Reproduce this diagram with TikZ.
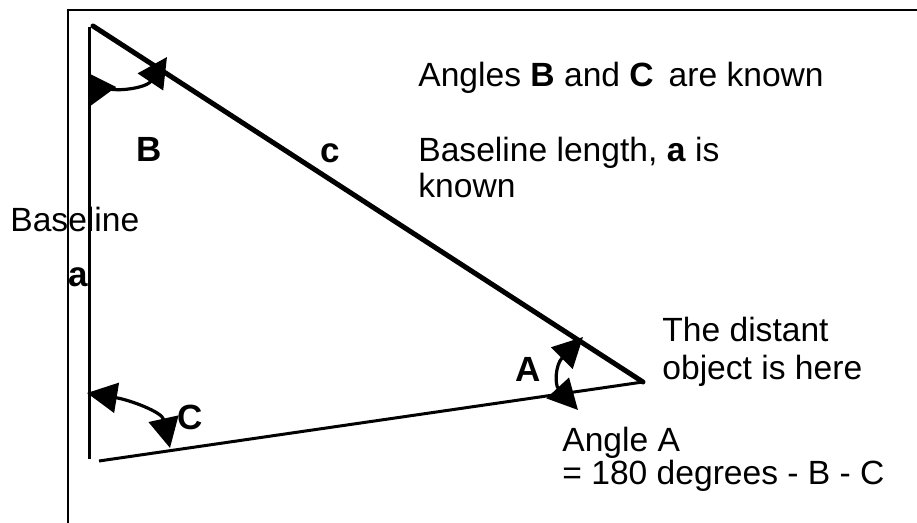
\documentclass[tikz,border=0pt]{standalone}
\usepackage{fontspec}
\setmainfont{Liberation Sans}
\usetikzlibrary{arrows.meta}
\tikzset{
  lbl/.style={inner sep=0pt, anchor=base west, font=\fontsize{16.8pt}{18pt}\selectfont},
  blbl/.style={lbl, font=\fontsize{17.5pt}{18pt}\selectfont\bfseries},
  frameline/.style={line width=1pt},
  sideline/.style={line width=1.5pt},
  hypline/.style={line width=2.5pt},
  angarrow/.style={line width=1.6pt, {Triangle[length=15pt,width=15pt]}-{Triangle[length=15pt,width=15pt]}},
}
\begin{document}
\begin{tikzpicture}[x=0.5pt,y=-0.5pt]
\useasboundingbox (0,0) rectangle (917,523);
% frame
\coordinate (f1) at (68,523);
\coordinate (f2) at (68,10);
\coordinate (f3) at (917,10);
\draw[frameline] (f1) -- (f2) -- (f3);
% triangle vertices
\coordinate (Vtop) at (89,27);
\coordinate (Vbot) at (89,459);
\coordinate (Htop) at (93,26);
\coordinate (Vobj) at (643,382);
\coordinate (Bbot) at (99,461);
\draw[sideline] (Vtop) -- (Vbot);
\draw[hypline, line cap=round] (Htop) -- (Vobj);
\draw[sideline] (Bbot) -- (Vobj);
% angle arrows
\coordinate (Bhi) at (167,57);
\coordinate (Blo) at (89,107);
\draw[angarrow] (Bhi) .. controls (145,90) and (95,95) .. (Blo);
\coordinate (Chi) at (87,393);
\coordinate (Clo) at (170,448);
\draw[angarrow] (Chi) .. controls (130,400) and (162,412) .. (Clo);
\coordinate (Ahi) at (583,337);
\coordinate (Alo) at (578,410);
\draw[angarrow] (Ahi) .. controls (555,365) and (555,385) .. (Alo);
% labels
\node[blbl] (lB) at (136,162) {B};
\node[blbl] (lc) at (320,163) {c};
\node[blbl] (la) at (68,287) {a};
\node[blbl] (lC) at (177,430) {C};
\node[blbl] (lA) at (515,382) {A};
\node[lbl] (base) at (10,232) {Baseline};
\node[lbl] (t1) at (418,87) {Angles \textbf{B} and \textbf{C}\, are known};
\node[lbl] (t2) at (418,162) {Baseline length, \textbf{a} is};
\node[lbl] (t3) at (418,198) {known};
\node[lbl] (t4) at (662,342) {The distant};
\node[lbl] (t5) at (662,380) {object is here};
\node[lbl] (t6) at (562,452) {Angle A};
\node[lbl] (t7) at (562,485) {= 180 degrees - B - C};
\end{tikzpicture}
\end{document}
